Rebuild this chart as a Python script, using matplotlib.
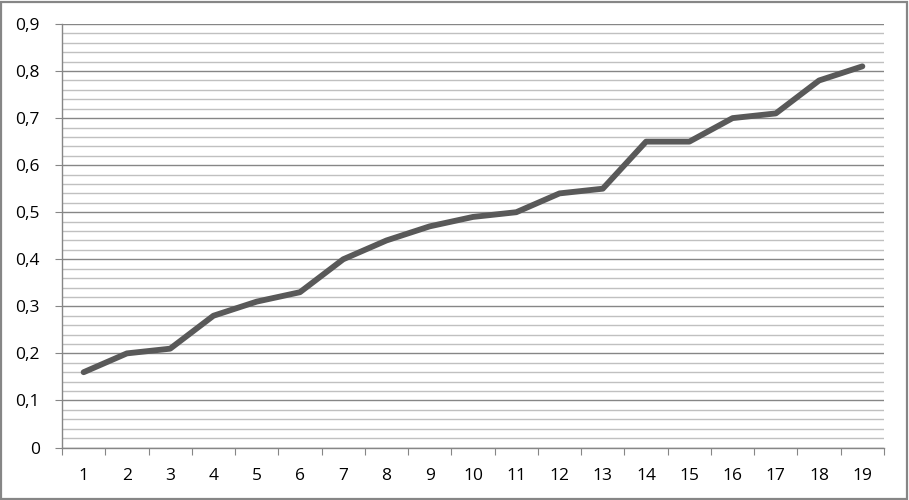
import numpy as np
import matplotlib.pyplot as plt
from matplotlib.ticker import MultipleLocator, FuncFormatter
from matplotlib.patches import Rectangle

categories = list(range(1, 20))
values = [0.16, 0.20, 0.21, 0.28, 0.31, 0.33, 0.40, 0.44, 0.47, 0.49,
          0.50, 0.54, 0.55, 0.65, 0.65, 0.70, 0.71, 0.78, 0.81]

plt.rcParams['font.family'] = ['Open Sans', 'DejaVu Sans']

fig = plt.figure(figsize=(9.09, 5.0), dpi=100)
ax = fig.add_axes([62 / 909, 1 - 447.5 / 500, (884 - 62) / 909, (447.5 - 24) / 500])

# contour gris autour de la figure
fig.patches.append(Rectangle((0.001, 0.002), 0.997, 0.995, transform=fig.transFigure,
                             fill=False, edgecolor='#868686', linewidth=1.6))

ax.set_ylim(0, 0.9)
ax.set_xlim(0.5, len(categories) + 0.5)

ax.yaxis.set_major_locator(MultipleLocator(0.1))
ax.yaxis.set_minor_locator(MultipleLocator(0.02))
ax.yaxis.set_major_formatter(FuncFormatter(lambda v, p: '0' if abs(v) < 1e-9 else f'{v:.1f}'.replace('.', ',')))
ax.grid(axis='y', which='major', color='#868686', linewidth=1.0)
ax.grid(axis='y', which='minor', color='#c0c0c0', linewidth=1.0)
ax.set_axisbelow(True)

# ticks x entre les catégories, étiquettes au centre
ax.set_xticks(np.arange(0.5, len(categories) + 1, 1))
ax.set_xticklabels([])
ax.set_xticks(categories, minor=True)
ax.set_xticklabels([str(c) for c in categories], minor=True)
ax.tick_params(axis='x', which='major', length=5, color='#868686', direction='out')
ax.tick_params(axis='x', which='minor', length=0, pad=14.5, labelsize=12.5, labelcolor='black')
ax.tick_params(axis='y', which='major', length=5, color='#868686', pad=11, labelsize=12.5)
ax.tick_params(axis='y', which='minor', length=0)

for s in ['top', 'right']:
    ax.spines[s].set_visible(False)
for s in ['left', 'bottom']:
    ax.spines[s].set_color('#868686')
    ax.spines[s].set_linewidth(1.0)

ax.plot(categories, values, color='#595959', linewidth=4.2, solid_capstyle='round',
        solid_joinstyle='round', clip_on=False)

fig.savefig('out.png', dpi=100)
